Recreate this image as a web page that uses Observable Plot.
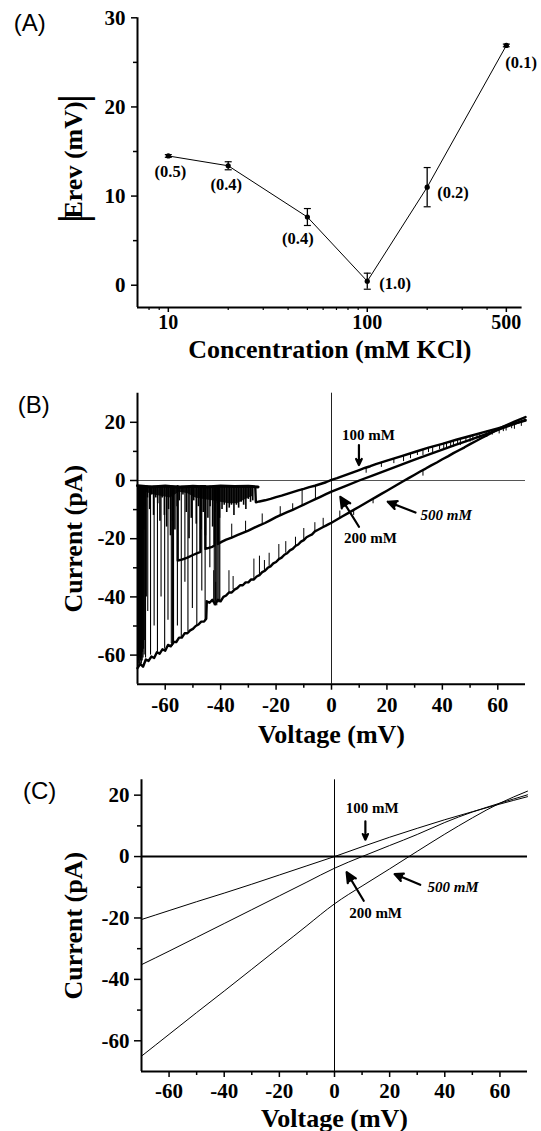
<!DOCTYPE html>
<html>
<head>
<meta charset="utf-8">
<script src="https://cdn.jsdelivr.net/npm/d3@7"></script>
<script src="https://cdn.jsdelivr.net/npm/@observablehq/plot@0.6"></script>
<style>
  body { margin: 0; background: #fff; }
  #chart { width: 541px; }
  #chart svg { display: block; overflow: visible; background: #fff; }
</style>
</head>
<body>
<div id="chart"></div>
<script>
// ---------------- Panel A data ----------------
const concentrations = [10, 20, 50, 100, 200, 500];          // mM KCl
const erev = [14.5, 13.4, 7.65, 0.45, 11.0, 26.9];           // |Erev| mV
const erevErr = [0.15, 0.45, 0.95, 0.9, 2.2, 0.15];
const permLabels = ["(0.5)", "(0.4)", "(0.4)", "(1.0)", "(0.2)", "(0.1)"];
const xDomainA = [7, 600];
const yDomainA = [-2.5, 30];
const xTicksA = [10, 100, 500];
const xMinorA = [8, 9, 20, 30, 40, 50, 60, 70, 80, 90, 200, 300, 400];
const yTicksA = [0, 10, 20, 30];
const yMinorA = [5, 15, 25];

// ---------------- Panel B data (recorded ramps) ----------------
const voltDomain = [-70, 70];
const yDomainB = [-70, 30];
const yDomainC = [-70, 25];
const vTicks = [-60, -40, -20, 0, 20, 40, 60];
const vMinor = [-50, -30, -10, 10, 30, 50];
const iTicks = [-60, -40, -20, 0, 20];
const iMinor = [-50, -30, -10, 10];
const closedLevelB = -2;

const bClosed = [[-70,-1.8],[-65,-2.2],[-60,-1.9],[-55,-2.3],[-50,-2.0],[-45,-2.2],[-40,-1.9],[-35,-2.1],[-30,-2.0],[-26.5,-2.2]];
const bFlickerBand = [[-67,-4],[-64,-5],[-61,-5.5],[-58,-6],[-55,-4],[-52,-4.5],[-49,-6],[-46,-6.5],[-43,-7],[-40,-7.5],[-37,-8],[-34,-8],[-31,-6.5],[-28.5,-5.5]];
const bShallow = [[-69.8,-16],[-69.4,-19],[-69.0,-15],[-68.6,-18],[-68.2,-13],[-67.7,-17],[-67.2,-9],[-66.4,-6],[-65.6,-10],[-64.9,-5],[-64.2,-12],[-63.4,-6],[-62.7,-8],[-61.9,-14],[-61.1,-6],[-60.3,-12],[-59.5,-16],[-58.8,-10],[-58.1,-19],[-57.3,-14],[-56.5,-17],[-55.7,-9],[-54.9,-7],[-53.6,-5],[-52.4,-11],[-51.4,-20],[-50.6,-13],[-49.7,-7],[-48.8,-15],[-48.0,-9],[-47.1,-17],[-46.3,-11],[-45.5,-19],[-44.6,-13],[-43.8,-9],[-42.9,-16],[-42.1,-11],[-41.2,-8],[-40.4,-13],[-39.5,-10],[-38.7,-8.5],[-37.8,-11],[-36.9,-9.5],[-36.1,-8.5],[-35.2,-12],[-34.3,-8.5],[-33.5,-9.5],[-32.6,-7.5],[-31.7,-8.5],[-30.9,-10],[-30.0,-6.5],[-29.2,-7.5],[-28.4,-7]];
const bDeep = [[-69.95,-64],[-69.8,-63],[-69.65,-62],[-69.5,-64],[-69.35,-63],[-69.2,-61],[-69.05,-63],[-68.9,-62],[-68.75,-60],[-68.6,-63],[-68.45,-61],[-68.3,-62],[-68.15,-59],[-68.0,-61],[-67.8,-58],[-67.6,-60],[-67.4,-55],[-67.1,-61],[-66.8,-40],[-66.3,-45],[-65.3,-60],[-64.0,-50],[-62.8,-59],[-61.5,-40],[-60.2,-58],[-59.0,-48],[-57.8,-56],[-57.4,-57],[-57.2,-56],[-57.0,-56.5],[-55.6,-50],[-54.2,-54],[-52.9,-35],[-51.8,-52],[-50.2,-44],[-48.6,-50],[-46.8,-38],[-45.6,-48],[-43.9,-30],[-42.3,-43],[-41.8,-43],[-41.4,-43],[-41.0,-42],[-40.6,-42],[-40.3,-42]];
const b100 = [[-27.5,-2.5],[-27.3,-7.5],[-26,-7.2],[-24,-6.8],[-22,-6.3],[-20,-5.7],[-18,-5.2],[-16,-4.6],[-14,-4.0],[-12,-3.4],[-10,-2.9],[-8,-2.3],[-6,-1.8],[-4,-1.2],[-2,-0.6],[0,0.2],[2,0.8],[4,1.5],[6,2.2],[8,2.9],[10,3.6],[12,4.3],[14,4.9],[16,5.6],[18,6.2],[20,6.8],[25,8.3],[30,9.8],[35,11.3],[40,12.6],[45,14.0],[50,15.3],[55,16.6],[60,17.9],[65,19.3],[70,20.6]];
const b200 = [[-55.5,-2],[-55.5,-27.5],[-54,-27.2],[-52,-26.5],[-50,-25.6],[-48,-24.8],[-47.3,-24.5],[-47.3,-2],[-45.5,-2],[-45.5,-23.5],[-43,-22.8],[-42.2,-22.3],[-42.2,-2],[-41,-2],[-41,-21.8],[-39.5,-21],[-38,-20.3],[-36,-19.6],[-34,-18.8],[-32,-18],[-30,-17.2],[-28,-16.3],[-26,-15.4],[-24,-14.6],[-22,-13.6],[-20,-12.6],[-18,-11.7],[-16,-10.9],[-14,-10.1],[-12,-9.2],[-10,-8.3],[-8,-7.4],[-6,-6.5],[-4,-5.6],[-2,-4.7],[0,-3.8],[5,-1.9],[10,0],[15,1.8],[20,3.6],[25,5.4],[30,7.2],[35,8.9],[40,10.6],[45,12.3],[50,14.0],[55,15.7],[60,17.4],[65,19.1],[70,20.8]];
const b500 = [[-70,-64.5],[-69,-63],[-68,-64],[-67,-61.5],[-66,-62],[-65,-60.5],[-64,-61],[-63,-59],[-62,-59.5],[-61,-58],[-60,-58.5],[-59,-56.5],[-58,-57],[-57,-55.5],[-56,-55.5],[-55,-54],[-54,-54],[-53,-52.5],[-52,-52.5],[-51,-51.5],[-50,-51],[-49,-50],[-48,-49.5],[-47,-48.5],[-46,-48.5],[-45.2,-47.5],[-45,-41.5],[-44,-42],[-43,-41],[-42,-42.5],[-41,-41],[-40,-41.5],[-39,-40],[-38,-39.5],[-37,-38.5],[-36,-38.5],[-35,-37.5],[-34,-37],[-33,-36],[-32,-36],[-31,-35],[-30,-35],[-29,-34],[-28,-34],[-27,-33],[-26,-32.5],[-25,-31.5],[-24,-31],[-23,-30],[-22,-29.5],[-21,-28.5],[-20,-28],[-19,-27],[-18,-26.5],[-17,-25.5],[-16,-25],[-15,-24],[-14,-23.5],[-13,-22.5],[-12,-22],[-11,-21],[-10,-20.5],[-9,-19.5],[-8,-19],[-7,-18.5],[-6,-17.5],[-5,-17],[-4,-16.5],[-3,-16],[-2,-15.5],[-1,-15],[0,-14.5],[2,-13.4],[4,-12.3],[6,-11.2],[8,-10.1],[10,-9],[12,-7.9],[14,-6.8],[16,-5.7],[18,-4.6],[20,-3.5],[22,-2.4],[24,-1.3],[26,-0.2],[28,0.9],[30,2],[32,3.1],[34,4.1],[36,5.2],[38,6.2],[40,7.3],[42,8.3],[44,9.4],[46,10.4],[48,11.4],[50,12.5],[52,13.5],[54,14.5],[56,15.5],[58,16.5],[60,17.5],[62,18.5],[64,19.4],[66,20.2],[68,21],[70,21.8]];
const bSpikes = [[-42.5,-42,-31],[-41.8,-41.5,-35],[-37,-38.5,-31],[-35.5,-37.5,-33],[-28,-34,-27],[-26,-32.5,-26],[-24.2,-31,-27.5],[-22.5,-29.5,-25],[-19,-27,-22],[-16.5,-25,-21],[-13,-22.5,-19.5],[-10,-20.5,-16.5],[-6,-17.5,-14.5],[-3,-16,-13],[3,-13,-10.5],[8,-10.1,-12],[15,-6.2,-8],[33,3.6,1.5],
  [-36,-19.6,-15],[-31,-17.6,-14],[-25,-15,-11.5],[-18.5,-12.2,-9],[-14,-10.4,-8],[-10.6,-2.9,-8.7],[-5.8,-1.7,-6.8],
  [12.5,4.5,2.5],[18,6.2,4.5],[22.5,7.5,5.8],[26,8.6,6.5],[28.5,9.3,7.5],[31,10.2,8.6],[33,10.7,8.6],[35,11.2,9.6],[36.5,11.7,9.6],[39,12.3,10.6],[40.5,12.8,10.8],[41.5,13,11],[43,13.4,11.4],[44,13.7,11.5],[45.5,14.1,12.2],[46.5,14.3,12],[48.5,14.9,13],[50,15.3,13.2],[51,15.6,13.6],[52.5,16,14.3],[53.5,16.2,14],[56,16.9,14.8],[57,17.1,15.6],[58,17.4,15.6],[60.5,18,16],[62,18.4,16.8],[63,18.8,17],[65,19.3,17.8],[66,19.6,17.6],[68.5,20.3,18.6]];

// ---------------- Panel C data (fitted I-V curves) ----------------
const c100 = [[-70,-20.5],[-60,-17.6],[-50,-14.7],[-40,-11.9],[-30,-9],[-20,-6],[-10,-3],[0,0],[10,3.2],[20,6.3],[30,9.2],[40,12],[50,14.6],[60,17.1],[70,19.5]];
const c200 = [[-70,-35.2],[-60,-30.8],[-50,-26.3],[-40,-21.8],[-30,-17.3],[-20,-12.8],[-10,-8.3],[0,-3.8],[10,0],[20,3.6],[30,7.2],[40,11.1],[50,14.5],[60,17.4],[70,20.1]];
const c500 = [[-70,-65],[-60,-57.9],[-50,-50.8],[-40,-43.8],[-30,-36.7],[-20,-29.6],[-10,-22.5],[0,-15.4],[10,-9.6],[20,-4],[30,1.7],[40,7.3],[50,12.6],[60,17.4],[70,21.3]];

// ---------------- Annotations ----------------
const annLabels = ["100 mM", "200 mM", "500 mM"];
const annTextB = [[13.3, 15.6], [14.1, -19.9], [41.4, -11.9]];
const annArrowB = [[9.9, 12.2, 9.9, 5.3], [9.9, -15.9, 3.2, -5.6], [30.3, -11, 20.3, -7.3]];
const annTextC = [[13.7, 15.6], [14.9, -18.3], [43, -10]];
const annArrowC = [[11.2, 11.5, 11.2, 5.5], [10.6, -14.4, 4.4, -5.1], [31.1, -9.2, 21.8, -5.7]];

// ---------------- styling ----------------
const SERIF = "'Liberation Serif', 'Times New Roman', serif";
const SANS = "'Liberation Sans', Arial, sans-serif";
const labelPlacementA = [
  {dx: 2, dy: 16, anchor: "middle"},
  {dx: -2, dy: 19, anchor: "middle"},
  {dx: -9.5, dy: 22, anchor: "middle"},
  {dx: 12, dy: 3, anchor: "start"},
  {dx: 10, dy: 6, anchor: "start"},
  {dx: -1, dy: 17, anchor: "start"}
];
const X = d => d[0], Y = d => d[1];
const capSymbol = {draw(ctx, size) { const r = Math.sqrt(size / Math.PI); ctx.moveTo(-r, 0); ctx.lineTo(r, 0); }};
const fmt = d => String(d);
const noText = () => "";
const baseStyle = {fontFamily: SERIF, fontWeight: "bold", fontSize: "20px", overflow: "visible", background: "white", color: "black"};
const tickFont = {fontSize: 21, fontWeight: "bold", fontFamily: SERIF};

function panelLabel(t, dx, dy) {
  return Plot.text([t], {frameAnchor: "top-left", dx, dy, lineAnchor: "top", textAnchor: "start",
    fontFamily: SANS, fontWeight: "normal", fontSize: 24});
}
function yTitle(t, dx, dy = 0) {
  return Plot.text([t], {frameAnchor: "left", rotate: -90, dx, dy, textAnchor: "middle", lineAnchor: "middle",
    fontSize: 26, fontWeight: "bold", fontFamily: SERIF});
}
function xTitle(t, dy) {
  return Plot.text([t], {frameAnchor: "bottom", dy, textAnchor: "middle", lineAnchor: "middle",
    fontSize: 26, fontWeight: "bold", fontFamily: SERIF});
}
function yTickLabels(ticks, dx, font = tickFont) {
  return Plot.text(ticks, {frameAnchor: "left", y: d => d, text: fmt, dx, textAnchor: "end", lineAnchor: "middle", ...font});
}
function xTickLabels(ticks, dy, font = tickFont) {
  return Plot.text(ticks, {frameAnchor: "bottom", x: d => d, text: fmt, dy, textAnchor: "middle", lineAnchor: "middle", ...font});
}
function annotations(textPos, arrows) {
  const idx = d3.range(annLabels.length);
  return [
    Plot.arrow(idx, {x1: i => arrows[i][0], y1: i => arrows[i][1], x2: i => arrows[i][2], y2: i => arrows[i][3],
      strokeWidth: 2.2, headLength: 9, headAngle: 50, stroke: "black"}),
    Plot.text(idx.filter(i => i !== 2), {x: i => textPos[i][0], y: i => textPos[i][1], text: i => annLabels[i],
      fontSize: 15, fontWeight: "bold", fontFamily: SERIF}),
    Plot.text([2], {x: i => textPos[i][0], y: i => textPos[i][1], text: i => annLabels[i],
      fontSize: 15, fontWeight: "bold", fontStyle: "italic", fontFamily: SERIF})
  ];
}
function ivAxes(xLabelDy) {
  return [
    Plot.axisY({ticks: iTicks, tickSize: 7, tickFormat: noText, label: null, strokeWidth: 1.5}),
    Plot.axisY({ticks: iMinor, tickSize: 4, tickFormat: noText, label: null, strokeWidth: 1.5}),
    Plot.axisX({ticks: vTicks, tickSize: 6, tickFormat: noText, label: null, strokeWidth: 1.5}),
    Plot.axisX({ticks: vMinor, tickSize: 4, tickFormat: noText, label: null, strokeWidth: 1.5}),
    yTickLabels(iTicks, -12),
    xTickLabels(vTicks, xLabelDy)
  ];
}

// ---------------- Panel A ----------------
const idxA = d3.range(concentrations.length);
const plotA = Plot.plot({
  width: 541, height: 360,
  marginLeft: 137, marginRight: 19.4, marginTop: 17.3, marginBottom: 53,
  x: {type: "log", domain: xDomainA},
  y: {domain: yDomainA},
  style: baseStyle,
  marks: [
    Plot.ruleX([xDomainA[0]], {strokeWidth: 2}),
    Plot.ruleY([yDomainA[0]], {strokeWidth: 2}),
    Plot.axisY({ticks: yTicksA, tickSize: 6, tickFormat: noText, label: null, strokeWidth: 1.5}),
    Plot.axisY({ticks: yMinorA, tickSize: 4, tickFormat: noText, label: null, strokeWidth: 1.5}),
    Plot.axisX({ticks: xTicksA, tickSize: 5, tickFormat: noText, label: null, strokeWidth: 1.5}),
    Plot.axisX({ticks: xMinorA, tickSize: 3, tickFormat: noText, label: null, strokeWidth: 1.2}),
    yTickLabels(yTicksA, -12),
    xTickLabels(xTicksA, 15.5, {...tickFont, fontSize: 20}),
    Plot.line(idxA, {x: i => concentrations[i], y: i => erev[i], stroke: "black", strokeWidth: 1}),
    Plot.ruleX(idxA, {x: i => concentrations[i], y1: i => erev[i] - erevErr[i], y2: i => erev[i] + erevErr[i], strokeWidth: 1.3}),
    Plot.dot(idxA, {x: i => concentrations[i], y: i => erev[i] - erevErr[i], symbol: capSymbol, r: 3.5, stroke: "black", strokeWidth: 1.2, fill: "none"}),
    Plot.dot(idxA, {x: i => concentrations[i], y: i => erev[i] + erevErr[i], symbol: capSymbol, r: 3.5, stroke: "black", strokeWidth: 1.2, fill: "none"}),
    Plot.dot(idxA, {x: i => concentrations[i], y: i => erev[i], r: 2.6, fill: "black"}),
    ...idxA.map(i => Plot.text([i], {x: j => concentrations[j], y: j => erev[j], text: j => permLabels[j],
      dx: labelPlacementA[i].dx, dy: labelPlacementA[i].dy, textAnchor: labelPlacementA[i].anchor,
      fontSize: 16.5, fontWeight: "bold", fontFamily: SERIF})),
    yTitle("Erev (mV)", -64, -2.7),
    Plot.text(["|"], {frameAnchor: "left", rotate: -90, dx: -64, dy: -64, textAnchor: "middle", lineAnchor: "middle", fontSize: 40, fontWeight: "bold", fontFamily: SERIF}),
    Plot.text(["|"], {frameAnchor: "left", rotate: -90, dx: -64, dy: 56, textAnchor: "middle", lineAnchor: "middle", fontSize: 40, fontWeight: "bold", fontFamily: SERIF}),
    xTitle("Concentration (mM KCl)", 42),
    panelLabel("(A)", -123.7, -4.3)
  ]
});

// ---------------- Panel B ----------------
const plotB = Plot.plot({
  width: 541, height: 385,
  marginLeft: 137, marginRight: 16, marginTop: 32.7, marginBottom: 61.3,
  x: {domain: voltDomain},
  y: {domain: yDomainB},
  style: baseStyle,
  marks: [
    Plot.ruleY([0], {stroke: "#555", strokeWidth: 1}),
    Plot.ruleX([0], {stroke: "#222", strokeWidth: 1}),
    Plot.areaY(bFlickerBand, {x: X, y1: closedLevelB, y2: Y, fill: "black", fillOpacity: 0.85}),
    Plot.ruleX(bShallow, {x: X, y1: closedLevelB, y2: Y, stroke: "black", strokeWidth: 1.6}),
    Plot.ruleX(bDeep, {x: X, y1: closedLevelB, y2: Y, stroke: "black", strokeWidth: 1.1}),
    Plot.line(bClosed, {x: X, y: Y, stroke: "black", strokeWidth: 3}),
    Plot.line(b500, {x: X, y: Y, stroke: "black", strokeWidth: 2.4}),
    Plot.line(b200, {x: X, y: Y, stroke: "black", strokeWidth: 2.4}),
    Plot.line(b100, {x: X, y: Y, stroke: "black", strokeWidth: 2.4}),
    Plot.ruleX(bSpikes, {x: d => d[0], y1: d => d[1], y2: d => d[2], stroke: "black", strokeWidth: 1}),
    Plot.ruleX([voltDomain[0]], {strokeWidth: 2}),
    Plot.ruleY([yDomainB[0]], {strokeWidth: 2}),
    ...ivAxes(21.5),
    ...annotations(annTextB, annArrowB),
    yTitle("Current (pA)", -64),
    xTitle("Voltage (mV)", 50),
    panelLabel("(B)", -119.7, 2.3)
  ]
});

// ---------------- Panel C ----------------
const plotC = Plot.plot({
  width: 541, height: 386,
  marginLeft: 141, marginRight: 14, marginTop: 34.3, marginBottom: 60,
  x: {domain: voltDomain},
  y: {domain: yDomainC},
  style: baseStyle,
  marks: [
    Plot.ruleY([0], {stroke: "black", strokeWidth: 2}),
    Plot.ruleX([0], {stroke: "black", strokeWidth: 1}),
    Plot.line(c100, {x: X, y: Y, stroke: "black", strokeWidth: 1, curve: "natural"}),
    Plot.line(c200, {x: X, y: Y, stroke: "black", strokeWidth: 1, curve: "natural"}),
    Plot.line(c500, {x: X, y: Y, stroke: "black", strokeWidth: 1, curve: "natural"}),
    Plot.ruleX([voltDomain[0]], {strokeWidth: 2}),
    Plot.ruleY([yDomainC[0]], {strokeWidth: 2}),
    ...ivAxes(19.5),
    ...annotations(annTextC, annArrowC),
    yTitle("Current (pA)", -68),
    xTitle("Voltage (mV)", 47),
    panelLabel("(C)", -118.5, 1.7)
  ]
});

// filled arrowheads, as in the figure: the arrow path's second sub-path is the head
for (const svg of [plotB, plotC]) {
  svg.querySelectorAll("path").forEach(p => {
    const d = p.getAttribute("d") || "";
    if ((d.match(/M/g) || []).length === 2 && !p.closest("[aria-label*='line']") && !p.closest("[aria-label*='area']")) {
      p.setAttribute("fill", "black");
      p.style.fill = "black";
      p.setAttribute("stroke-linejoin", "miter");
    }
  });
}

const chart = document.getElementById("chart");
chart.append(plotA, plotB, plotC);
</script>
</body>
</html>
